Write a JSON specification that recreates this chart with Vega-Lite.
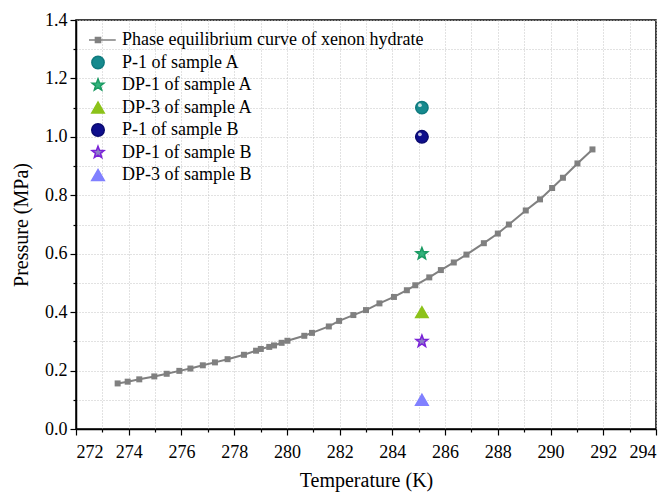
{
  "$schema": "https://vega.github.io/schema/vega-lite/v6.json",
  "width": 580,
  "height": 409,
  "autosize": "none",
  "padding": {"left": 76, "top": 20, "right": 15, "bottom": 65},
  "background": "white",
  "config": {
    "view": {"stroke": "black", "strokeWidth": 1.5},
    "font": "Liberation Serif",
    "axis": {"labelFont": "Liberation Serif", "titleFont": "Liberation Serif", "labelColor": "black", "titleColor": "black", "tickColor": "black", "domainColor": "black"},
    "legend": {"labelFont": "Liberation Serif"}
  },
  "datasets": {
    "curve": [
      {"T": 273.58, "P": 0.156}, {"T": 273.96, "P": 0.162}, {"T": 274.40, "P": 0.170},
      {"T": 274.97, "P": 0.180}, {"T": 275.44, "P": 0.189}, {"T": 275.92, "P": 0.199},
      {"T": 276.34, "P": 0.207}, {"T": 276.81, "P": 0.218}, {"T": 277.27, "P": 0.228},
      {"T": 277.75, "P": 0.239}, {"T": 278.37, "P": 0.254}, {"T": 278.83, "P": 0.268},
      {"T": 279.01, "P": 0.274}, {"T": 279.33, "P": 0.281}, {"T": 279.51, "P": 0.286},
      {"T": 279.80, "P": 0.295}, {"T": 280.02, "P": 0.302}, {"T": 280.66, "P": 0.319},
      {"T": 280.95, "P": 0.329}, {"T": 281.59, "P": 0.351}, {"T": 281.98, "P": 0.370},
      {"T": 282.52, "P": 0.390}, {"T": 283.00, "P": 0.407}, {"T": 283.51, "P": 0.430},
      {"T": 284.06, "P": 0.452}, {"T": 284.55, "P": 0.475}, {"T": 284.87, "P": 0.492},
      {"T": 285.40, "P": 0.519}, {"T": 285.84, "P": 0.544}, {"T": 286.33, "P": 0.570},
      {"T": 286.81, "P": 0.597}, {"T": 287.47, "P": 0.636}, {"T": 288.00, "P": 0.669},
      {"T": 288.42, "P": 0.700}, {"T": 289.06, "P": 0.748}, {"T": 289.60, "P": 0.786},
      {"T": 290.06, "P": 0.825}, {"T": 290.47, "P": 0.860}, {"T": 291.02, "P": 0.909},
      {"T": 291.59, "P": 0.957}
    ],
    "samples": [
      {"T": 285.12, "P": 1.1, "series": "P-1 of sample A"},
      {"T": 285.12, "P": 0.6, "series": "DP-1 of sample A"},
      {"T": 285.12, "P": 0.4, "series": "DP-3 of sample A"},
      {"T": 285.12, "P": 1.0, "series": "P-1 of sample B"},
      {"T": 285.12, "P": 0.3, "series": "DP-1 of sample B"},
      {"T": 285.12, "P": 0.1, "series": "DP-3 of sample B"}
    ]
  },
  "encoding": {
    "x": {"field": "T", "type": "quantitative", "scale": {"domain": [272, 294], "nice": false, "zero": false},
      "axis": {"orient": "bottom", "values": [272,273,274,275,276,277,278,279,280,281,282,283,284,285,286,287,288,289,290,291,292,293,294],
        "labelExpr": "datum.value % 2 === 0 ? datum.label : ''", "format": "d",
        "tickSize": {"condition": {"test": "datum.value % 2 === 0", "value": 6}, "value": 3},
        "tickWidth": 1.2, "domainWidth": 1.5, "labelFont": "Liberation Serif", "labelFontSize": 18, "labelPadding": 8,
        "grid": true, "gridColor": "#c4c4c4", "gridDash": [1, 2], "gridWidth": 1,
        "title": "Temperature (K)", "titleFont": "Liberation Serif", "titleFontSize": 20, "titleFontWeight": "normal", "titlePadding": 9}},
    "y": {"field": "P", "type": "quantitative", "scale": {"domain": [0, 1.4], "nice": false},
      "axis": {"orient": "left", "values": [0,0.1,0.2,0.3,0.4,0.5,0.6,0.7,0.8,0.9,1.0,1.1,1.2,1.3,1.4],
        "labelExpr": "round(datum.value * 10) % 2 === 0 ? format(datum.value, '.1f') : ''",
        "tickSize": {"condition": {"test": "round(datum.value * 10) % 2 === 0", "value": 6}, "value": 3},
        "tickWidth": 1.2, "domainWidth": 1.5, "labelFont": "Liberation Serif", "labelFontSize": 18, "labelPadding": 3,
        "grid": true, "gridColor": "#c4c4c4", "gridDash": [1, 2], "gridWidth": 1,
        "title": "Pressure (MPa)", "titleFont": "Liberation Serif", "titleFontSize": 20, "titleFontWeight": "normal", "titlePadding": 13}}
  },
  "layer": [
    {
      "data": {"name": "curve"},
      "mark": {"type": "line", "color": "#808080", "strokeWidth": 2}
    },
    {
      "data": {"name": "curve"},
      "mark": {"type": "point", "shape": "square", "filled": true, "color": "#808080", "size": 36, "opacity": 1}
    },
    {
      "data": {"name": "samples"},
      "mark": {"type": "point", "filled": true, "opacity": 1, "strokeWidth": 1.5},
      "encoding": {
        "color": {"field": "series", "type": "nominal",
          "scale": {"domain": ["Phase equilibrium curve of xenon hydrate", "P-1 of sample A", "DP-1 of sample A", "DP-3 of sample A", "P-1 of sample B", "DP-1 of sample B", "DP-3 of sample B"],
            "range": ["#808080", "#168a8e", "#33b37c", "#8cc21a", "#0e0e8c", "#8c80c8", "#8080ff"]},
          "legend": {"title": null, "orient": "none", "legendX": 13, "legendY": 10, "padding": 0, "clipHeight": 20, "rowPadding": 2.5, "labelOffset": 15, "labelFontSize": 18, "labelColor": "black", "labelLimit": 450, "symbolStrokeWidth": 1.5, "symbolOpacity": 1}},
        "stroke": {"field": "series", "type": "nominal",
          "scale": {"domain": ["Phase equilibrium curve of xenon hydrate", "P-1 of sample A", "DP-1 of sample A", "DP-3 of sample A", "P-1 of sample B", "DP-1 of sample B", "DP-3 of sample B"],
            "range": ["#808080", "#0f7a7e", "#1a9a62", "#8cc21a", "#0a0a70", "#7a22d8", "#8080ff"]}},
        "shape": {"field": "series", "type": "nominal",
          "scale": {"domain": ["Phase equilibrium curve of xenon hydrate", "P-1 of sample A", "DP-1 of sample A", "DP-3 of sample A", "P-1 of sample B", "DP-1 of sample B", "DP-3 of sample B"],
            "range": ["M-2.9,0H2.9M-0.42,-0.42H0.42V0.42H-0.42Z", "circle", "M0,-1L0.247,-0.34L0.951,-0.309L0.399,0.13L0.588,0.809L0,0.42L-0.588,0.809L-0.399,0.13L-0.951,-0.309L-0.247,-0.34Z", "triangle-up", "circle", "M0,-1L0.247,-0.34L0.951,-0.309L0.399,0.13L0.588,0.809L0,0.42L-0.588,0.809L-0.399,0.13L-0.951,-0.309L-0.247,-0.34Z", "triangle-up"]}},
        "size": {"field": "series", "type": "nominal",
          "scale": {"domain": ["Phase equilibrium curve of xenon hydrate", "P-1 of sample A", "DP-1 of sample A", "DP-3 of sample A", "P-1 of sample B", "DP-1 of sample B", "DP-3 of sample B"],
            "range": [150, 160, 280, 256, 160, 280, 256]}}
      }
    },
    {
      "data": {"name": "samples"},
      "transform": [{"filter": {"field": "series", "oneOf": ["P-1 of sample A", "P-1 of sample B"]}}],
      "mark": {"type": "point", "shape": "circle", "filled": true, "color": "white", "size": 14, "opacity": 0.75, "xOffset": -2, "yOffset": -2.5}
    }
  ]
}
